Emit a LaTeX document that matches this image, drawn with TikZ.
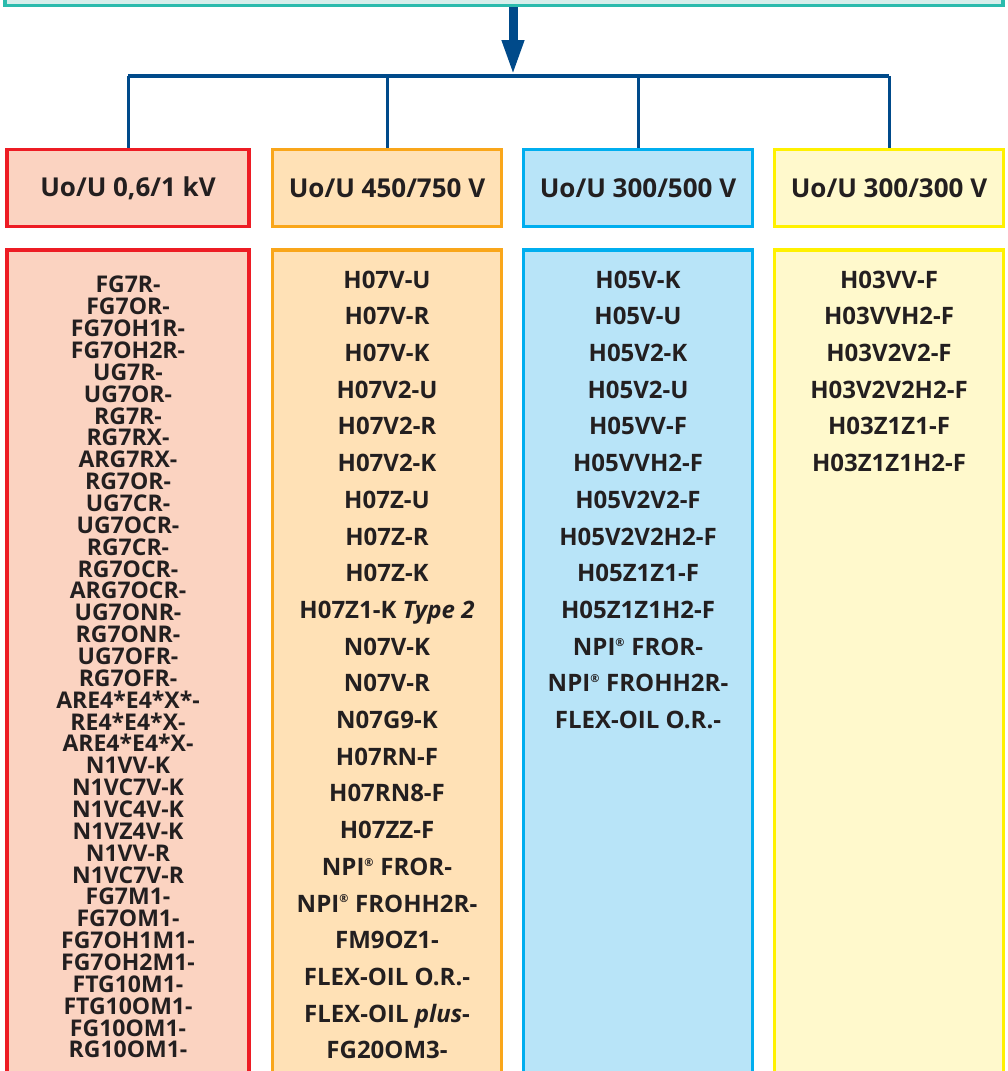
\documentclass[tikz,border=0pt]{standalone}
\usepackage{fontspec}
\setmainfont{Open Sans}
\usetikzlibrary{arrows.meta}
\definecolor{navy}{HTML}{004A8A}
\definecolor{ink}{HTML}{231F20}
\definecolor{tealline}{HTML}{2BBBAD}
\definecolor{tealfill}{HTML}{D6EEEB}
\definecolor{redline}{HTML}{ED1C24}
\definecolor{redfill}{HTML}{FBD3C1}
\definecolor{orangeline}{HTML}{F9A61A}
\definecolor{orangefill}{HTML}{FFE1B6}
\definecolor{blueline}{HTML}{00AEEF}
\definecolor{bluefill}{HTML}{B8E4F8}
\definecolor{yellowline}{HTML}{FFF100}
\definecolor{yellowfill}{HTML}{FFF9CC}
\newcommand{\npi}{NPI\textsuperscript{\fontsize{11}{11}\selectfont ®}}
\tikzset{
  hbox/.style={draw, line width=3.5pt, minimum height=77pt, minimum width=229pt, inner sep=0pt,
    font=\fontsize{26}{30}\selectfont\bfseries, text=ink},
  lbox/.style={draw, line width=3.5pt, minimum height=860pt, minimum width=229pt, inner sep=0pt, anchor=north},
  ltext/.style={anchor=north, align=center, inner sep=0pt, text=ink,
    font=\fontsize{24}{36.7}\selectfont\bfseries},
  link/.style={navy, line width=3pt}
}
\begin{document}
\begin{tikzpicture}[x=1pt,y=-1pt]
\clip (0,0) rectangle (1008,1071);
\fill[white] (0,0) rectangle (1008,1071);

\node [draw=tealline, fill=tealfill, line width=3.5pt, minimum width=998pt, minimum height=91pt] (top) at (504,-40) {};
\coordinate (fork) at (513,76);

\node [hbox, draw=redline, fill=redfill, minimum width=242pt] (h1) at (128,188) {Uo/U 0,6/1 kV};
\node [hbox, draw=orangeline, fill=orangefill] (h2) at (387,188) {Uo/U 450/750 V};
\node [hbox, draw=blueline, fill=bluefill] (h3) at (638,188) {Uo/U 300/500 V};
\node [hbox, draw=yellowline, fill=yellowfill] (h4) at (889,188) {Uo/U 300/300 V};

\node [lbox, draw=redline, fill=redfill, minimum width=242pt] (b1) at (128,248) {};
\node [lbox, draw=orangeline, fill=orangefill] (b2) at (387,248) {};
\node [lbox, draw=blueline, fill=bluefill] (b3) at (638,248) {};
\node [lbox, draw=yellowline, fill=yellowfill] (b4) at (889,248) {};

\draw [navy, line width=9pt, -{Triangle[length=36pt,width=20pt]}] (top.south -| fork) -- (fork);
\draw [link, line width=4pt] (h1.north |- fork) -- (h4.north |- fork);
\foreach \n in {h1,h2,h3,h4}
  \draw [link] (\n.north |- fork) -- (\n.north);

\node [ltext, font=\fontsize{23}{21.86}\selectfont\bfseries] (t1) at (128,276) {FG7R-\\FG7OR-\\FG7OH1R-\\FG7OH2R-\\UG7R-\\UG7OR-\\RG7R-\\RG7RX-\\ARG7RX-\\RG7OR-\\UG7CR-\\UG7OCR-\\RG7CR-\\RG7OCR-\\ARG7OCR-\\UG7ONR-\\RG7ONR-\\UG7OFR-\\RG7OFR-\\ARE4*E4*X*-\\RE4*E4*X-\\ARE4*E4*X-\\N1VV-K\\N1VC7V-K\\N1VC4V-K\\N1VZ4V-K\\N1VV-R\\N1VC7V-R\\FG7M1-\\FG7OM1-\\FG7OH1M1-\\FG7OH2M1-\\FTG10M1-\\FTG10OM1-\\FG10OM1-\\RG10OM1-};
\node [ltext] (t2) at (387,270.5) {H07V-U\\H07V-R\\H07V-K\\H07V2-U\\H07V2-R\\H07V2-K\\H07Z-U\\H07Z-R\\H07Z-K\\H07Z1-K \textit{Type 2}\\N07V-K\\N07V-R\\N07G9-K\\H07RN-F\\H07RN8-F\\H07ZZ-F\\\npi{} FROR-\\\npi{} FROHH2R-\\FM9OZ1-\\FLEX-OIL O.R.-\\FLEX-OIL \textit{plus}-\\FG20OM3-};
\node [ltext] (t3) at (638,270.5) {H05V-K\\H05V-U\\H05V2-K\\H05V2-U\\H05VV-F\\H05VVH2-F\\H05V2V2-F\\H05V2V2H2-F\\H05Z1Z1-F\\H05Z1Z1H2-F\\\npi{} FROR-\\\npi{} FROHH2R-\\FLEX-OIL O.R.-};
\node [ltext] (t4) at (889,270.5) {H03VV-F\\H03VVH2-F\\H03V2V2-F\\H03V2V2H2-F\\H03Z1Z1-F\\H03Z1Z1H2-F};
\end{tikzpicture}
\end{document}
